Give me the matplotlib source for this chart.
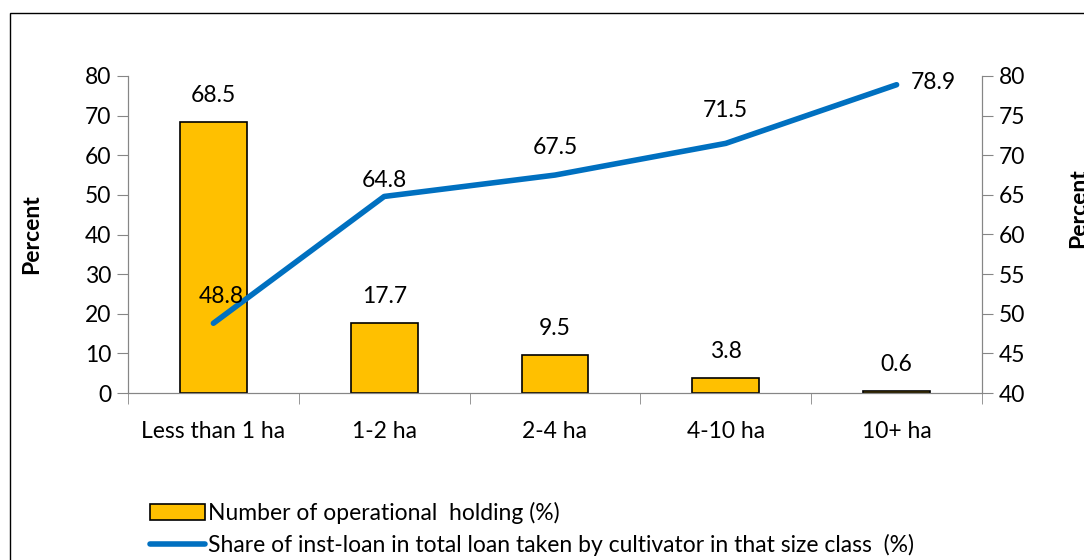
import matplotlib.pyplot as plt
from matplotlib.patches import Rectangle
import numpy as np

plt.rcParams['font.family'] = ['Lato', 'DejaVu Sans']

categories = ["Less than 1 ha", "1-2 ha", "2-4 ha", "4-10 ha", "10+ ha"]
holding_pct = [68.5, 17.7, 9.5, 3.8, 0.6]
inst_loan_share = [48.8, 64.8, 67.5, 71.5, 78.9]

bar_label = "Number of operational  holding (%)"
line_label = "Share of inst-loan in total loan taken by cultivator in that size class  (%)"

axis_grey = "#868686"
fs = 16.5

fig = plt.figure(figsize=(10.84, 5.6), dpi=100)
fig.patches.append(Rectangle((10 / 1084, -0.1), 1.2, 1 - 13 / 560 + 0.1,
                             transform=fig.transFigure, fill=False,
                             edgecolor="black", linewidth=1.0))

ax = fig.add_axes([128 / 1084, 1 - 393 / 560, 854 / 1084, 317 / 560])
x = np.arange(len(categories))
bars = ax.bar(x, holding_pct, width=0.39, color="#FFC000", edgecolor="black",
              linewidth=1.2, label=bar_label, zorder=2)
for xi, v in zip(x, holding_pct):
    ax.annotate(f"{v:.1f}", (xi, v), xytext=(0, 19), textcoords="offset points",
                ha="center", va="center", fontsize=fs)

ax.set_xlim(-0.5, len(categories) - 0.5)
ax.set_ylim(0, 80)
ax.set_yticks(range(0, 81, 10))
ax.set_xticks(x)
ax.set_xticklabels(categories, fontsize=fs)
ax.set_xticks(np.arange(-0.5, len(categories)), minor=True)
ax.tick_params(axis="x", which="major", length=0, pad=20)
ax.tick_params(axis="x", which="minor", length=8, color=axis_grey, direction="out")
ax.tick_params(axis="y", labelsize=fs, length=8, color=axis_grey, pad=4)
ax.set_ylabel("Percent", fontsize=fs, fontweight="bold")
ax.yaxis.set_label_coords(-0.1, 0.5)
ax.spines["top"].set_visible(False)
for side in ["left", "bottom", "right"]:
    ax.spines[side].set_color(axis_grey)

ax2 = ax.twinx()
line, = ax2.plot(x, inst_loan_share, color="#0070C0", linewidth=4, label=line_label,
                 solid_capstyle="round", zorder=3)
ax2.set_ylim(40, 80)
ax2.set_yticks(range(40, 81, 5))
ax2.tick_params(axis="y", labelsize=fs, length=8, color=axis_grey, pad=4)
ax2.spines["top"].set_visible(False)
for side in ["left", "bottom", "right"]:
    ax2.spines[side].set_color(axis_grey)

offsets = [(6, 19), (0, 11.5), (0, 20), (0, 24), (10, 1.5)]
aligns = ["center", "center", "center", "center", "left"]
for xi, v, off, ha in zip(x, inst_loan_share, offsets, aligns):
    ax2.annotate(f"{v:.1f}", (xi, v), xytext=off, textcoords="offset points",
                 ha=ha, va="center", fontsize=fs)

fig.text(1068 / 1084, 1 - 208 / 560, "Percent", rotation=90, fontsize=fs,
         fontweight="bold", ha="left", va="center")

fig.legend(handles=[bars, line], loc="upper left",
           bbox_to_anchor=(150 / 1084, 1 - 502 / 560), frameon=False,
           fontsize=fs, handlelength=2.4, handletextpad=0.15,
           labelspacing=0.45, borderpad=0, borderaxespad=0)

fig.savefig("out.png", dpi=100, facecolor="white")
